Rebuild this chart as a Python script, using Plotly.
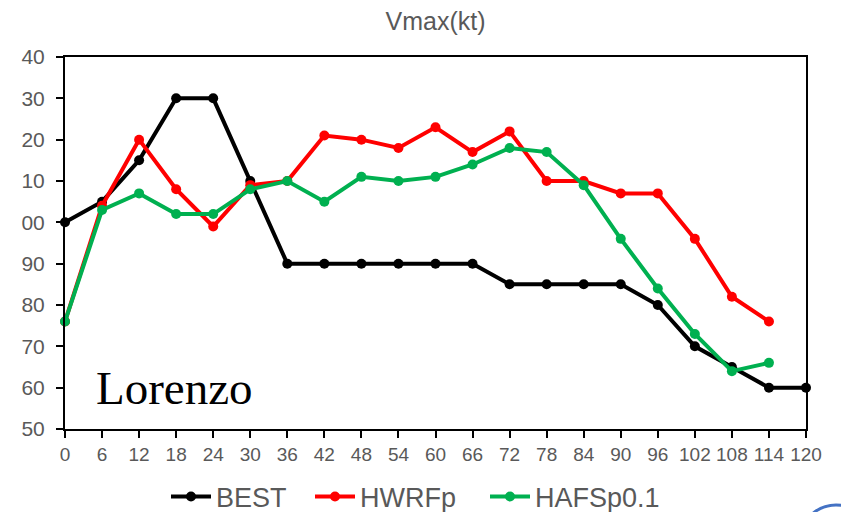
import plotly.graph_objects as go

hours = [0, 6, 12, 18, 24, 30, 36, 42, 48, 54, 60, 66, 72, 78, 84, 90, 96, 102, 108, 114, 120]
best = [100, 105, 115, 130, 130, 110, 90, 90, 90, 90, 90, 90, 85, 85, 85, 85, 80, 70, 65, 60, 60]
hwrfp = [76, 104, 120, 108, 99, 109, 110, 121, 120, 118, 123, 117, 122, 110, 110, 107, 107, 96, 82, 76]
hafsp = [76, 103, 107, 102, 102, 108, 110, 105, 111, 110, 111, 114, 118, 117, 109, 96, 84, 73, 64, 66]

y_tickvals = [140, 130, 120, 110, 100, 90, 80, 70, 60, 50]
y_ticktext = ["40", "30", "20", "10", "00", "90", "80", "70", "60", "50"]
x_tickvals = hours

series = [
    ("BEST", best, "#000000", 89),
    ("HWRFp", hwrfp, "#FF0000", 120),
    ("HAFSp0.1", hafsp, "#00B050", None),
]

fig = go.Figure()
for name, vals, col, lw in series:
    kw = {}
    if lw:
        kw["legendwidth"] = lw
    fig.add_trace(go.Scatter(
        x=hours[:len(vals)], y=vals, name=name, mode="lines+markers",
        line=dict(color=col, width=4),
        marker=dict(color=col, size=10),
        cliponaxis=False, **kw
    ))

fig.update_layout(
    width=841, height=512,
    margin=dict(l=65, r=35, t=57, b=83),
    paper_bgcolor="white", plot_bgcolor="white",
    title=dict(text="Vmax(kt)", x=0.5, xref="paper", xanchor="center",
               y=1 - 21 / 512, yref="container", yanchor="middle",
               font=dict(family="Liberation Sans, Arial", size=25, color="#595959")),
    legend=dict(orientation="h", x=(172 - 6) / 841, xref="container", xanchor="left",
                y=1 - 497 / 512, yref="container", yanchor="middle",
                font=dict(family="Liberation Sans, Arial", size=27, color="#595959"),
                itemwidth=40, tracegroupgap=0),
    showlegend=True,
    annotations=[dict(text="Lorenzo", xref="paper", yref="paper", x=(174 - 65) / 741, y=(429 - 388) / 372,
                      xanchor="center", yanchor="middle", showarrow=False,
                      font=dict(family="Liberation Serif, Times New Roman, serif", size=47, color="#000000"))],
    shapes=[dict(type="circle", xref="paper", yref="paper",
                 x0=(800 - 65) / 741, x1=(872 - 65) / 741,
                 y0=(429 - 505) / 372, y1=(429 - 577) / 372,
                 line=dict(color="#4472C4", width=3), fillcolor="rgba(0,0,0,0)", layer="above")],
)
fig.update_xaxes(range=[0, 120], tickvals=x_tickvals, ticktext=[str(h) for h in x_tickvals],
                 showline=True, linecolor="black", linewidth=2, mirror=True,
                 ticks="outside", ticklen=7, tickcolor="black", tickwidth=1.5,
                 showgrid=False, zeroline=False, automargin=False,
                 tickfont=dict(family="Liberation Sans, Arial", size=19, color="#595959"))
fig.update_yaxes(range=[50, 140], tickvals=y_tickvals, ticktext=y_ticktext,
                 showline=True, linecolor="black", linewidth=2, mirror=True,
                 ticks="outside", ticklen=7, tickcolor="black", tickwidth=1.5,
                 ticklabelstandoff=7,
                 showgrid=False, zeroline=False, automargin=False,
                 tickfont=dict(family="Liberation Sans, Arial", size=21, color="#595959"))

fig.write_html("out.html")
